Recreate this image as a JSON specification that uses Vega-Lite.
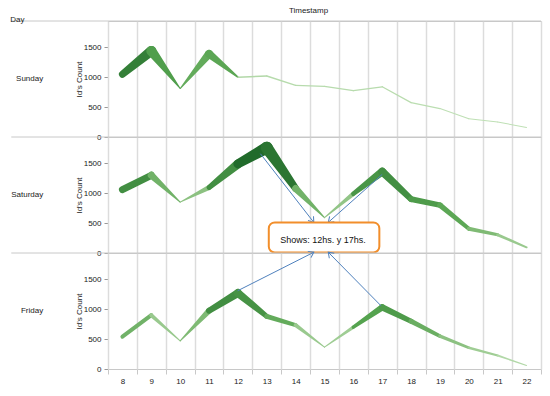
{
  "$schema": "https://vega.github.io/schema/vega-lite/v6.json",
  "autosize": {"type": "pad"},
  "padding": {"left": 10, "top": 6, "right": 10, "bottom": 4},
  "background": "white",
  "bounds": "flush",
  "title": {"text": "Day", "fontSize": 8, "fontWeight": "normal", "font": "Liberation Sans", "color": "#222", "anchor": "start", "frame": "bounds", "offset": 3, "dy": 21},
  "data": {"values": [
    {"Day": "Sunday", "hour": 8, "count": 1050, "w": 7},
    {"Day": "Sunday", "hour": 9, "count": 1440, "w": 10},
    {"Day": "Sunday", "hour": 10, "count": 810, "w": 1},
    {"Day": "Sunday", "hour": 11, "count": 1390, "w": 8},
    {"Day": "Sunday", "hour": 12, "count": 1000, "w": 1.6},
    {"Day": "Sunday", "hour": 13, "count": 1020, "w": 1.4},
    {"Day": "Sunday", "hour": 14, "count": 865, "w": 1.3},
    {"Day": "Sunday", "hour": 15, "count": 848, "w": 1.3},
    {"Day": "Sunday", "hour": 16, "count": 776, "w": 1.3},
    {"Day": "Sunday", "hour": 17, "count": 840, "w": 1.3},
    {"Day": "Sunday", "hour": 18, "count": 575, "w": 1.2},
    {"Day": "Sunday", "hour": 19, "count": 475, "w": 1.1},
    {"Day": "Sunday", "hour": 20, "count": 305, "w": 1},
    {"Day": "Sunday", "hour": 21, "count": 250, "w": 1},
    {"Day": "Sunday", "hour": 22, "count": 160, "w": 1},
    {"Day": "Saturday", "hour": 8, "count": 1060, "w": 7},
    {"Day": "Saturday", "hour": 9, "count": 1300, "w": 7},
    {"Day": "Saturday", "hour": 10, "count": 850, "w": 1},
    {"Day": "Saturday", "hour": 11, "count": 1095, "w": 5},
    {"Day": "Saturday", "hour": 12, "count": 1490, "w": 9},
    {"Day": "Saturday", "hour": 13, "count": 1760, "w": 12},
    {"Day": "Saturday", "hour": 14, "count": 1080, "w": 7},
    {"Day": "Saturday", "hour": 15, "count": 590, "w": 1},
    {"Day": "Saturday", "hour": 16, "count": 990, "w": 4.5},
    {"Day": "Saturday", "hour": 17, "count": 1360, "w": 8},
    {"Day": "Saturday", "hour": 18, "count": 900, "w": 6},
    {"Day": "Saturday", "hour": 19, "count": 800, "w": 5.5},
    {"Day": "Saturday", "hour": 20, "count": 405, "w": 4},
    {"Day": "Saturday", "hour": 21, "count": 305, "w": 3},
    {"Day": "Saturday", "hour": 22, "count": 95, "w": 2},
    {"Day": "Friday", "hour": 8, "count": 540, "w": 4},
    {"Day": "Friday", "hour": 9, "count": 900, "w": 4},
    {"Day": "Friday", "hour": 10, "count": 470, "w": 1},
    {"Day": "Friday", "hour": 11, "count": 975, "w": 6},
    {"Day": "Friday", "hour": 12, "count": 1270, "w": 8},
    {"Day": "Friday", "hour": 13, "count": 880, "w": 5},
    {"Day": "Friday", "hour": 14, "count": 735, "w": 4},
    {"Day": "Friday", "hour": 15, "count": 365, "w": 1},
    {"Day": "Friday", "hour": 16, "count": 700, "w": 3.5},
    {"Day": "Friday", "hour": 17, "count": 1030, "w": 6.5},
    {"Day": "Friday", "hour": 18, "count": 800, "w": 5},
    {"Day": "Friday", "hour": 19, "count": 550, "w": 3.5},
    {"Day": "Friday", "hour": 20, "count": 355, "w": 2.5},
    {"Day": "Friday", "hour": 21, "count": 225, "w": 2},
    {"Day": "Friday", "hour": 22, "count": 60, "w": 1},
    {"Day": "Saturday", "arrow": 1, "ax": 12.78, "ay": 1660, "ax2": 14.63, "ay2": 512},
    {"Day": "Saturday", "arrow": 2, "ax": 17.0, "ay": 1315, "ax2": 15.13, "ay2": 512},
    {"Day": "Friday", "arrow": 3, "ax": 11.99, "ay": 1308, "ax2": 14.63, "ay2": 1953},
    {"Day": "Friday", "arrow": 4, "ax": 16.96, "ay": 1056, "ax2": 15.13, "ay2": 1953},
    {"Day": "Saturday", "bx": 13.07, "bx2": 16.9, "by": 7, "by2": 512, "tx": 14.95, "ty": 218, "label": "Shows: 12hs. y 17hs."}
  ]},
  "facet": {
    "row": {
      "field": "Day", "type": "nominal", "sort": ["Sunday", "Saturday", "Friday"],
      "header": {
        "title": null,
        "labelAngle": 0, "labelAlign": "left", "labelFontSize": 8, "labelFont": "Liberation Sans", "labelColor": "#222", "labelPadding": 32
      }
    }
  },
  "spacing": 0,
  "spec": {
    "width": 433,
    "height": 116,
    "layer": [
      {
        "transform": [
          {"filter": {"field": "count", "valid": true}},
          {"window": [
            {"op": "lead", "field": "hour", "as": "nh"},
            {"op": "lead", "field": "count", "as": "nc"},
            {"op": "lead", "field": "w", "as": "nw"}
          ], "groupby": ["Day"], "sort": [{"field": "hour", "order": "ascending"}]},
          {"filter": {"field": "nh", "valid": true}},
          {"fold": ["hour", "nh"], "as": ["hk", "xv"]},
          {"fold": ["count", "nc"], "as": ["ck", "yv"]},
          {"fold": ["w", "nw"], "as": ["wk", "wv"]},
          {"filter": {"or": [
            {"and": [{"field": "hk", "equal": "hour"}, {"field": "ck", "equal": "count"}, {"field": "wk", "equal": "w"}]},
            {"and": [{"field": "hk", "equal": "nh"}, {"field": "ck", "equal": "nc"}, {"field": "wk", "equal": "nw"}]}
          ]}},
          {"joinaggregate": [{"op": "mean", "field": "wv", "as": "mw"}], "groupby": ["Day", "hour"]}
        ],
        "mark": {"type": "trail"},
        "encoding": {
          "x": {
            "field": "xv", "type": "quantitative",
            "scale": {"domain": [7.5, 22.5], "nice": false, "zero": false},
            "axis": {
              "title": "Timestamp", "titleFontSize": 8, "titleFontWeight": "normal", "titleFont": "Liberation Sans", "titleColor": "#222",
              "titleY": -357, "titleX": 200, "titleBaseline": "alphabetic",
              "values": [7.5, 8.5, 9.5, 10.5, 11.5, 12.5, 13.5, 14.5, 15.5, 16.5, 17.5, 18.5, 19.5, 20.5, 21.5, 22.5],
              "tickCount": 40,
              "labelExpr": "datum.value < 22 ? format(datum.value + 0.5, 'd') : ''",
              "labelOffset": 14.43, "labelFlush": false, "labelOverlap": false,
              "grid": true, "gridColor": "#dcdcdc", "gridWidth": 1.5,
              "domain": false, "ticks": true, "tickColor": "#c8c8c8", "tickSize": 5,
              "labelFontSize": 8, "labelFont": "Liberation Sans", "labelColor": "#222", "labelPadding": 3
            }
          },
          "y": {
            "field": "yv", "type": "quantitative",
            "scale": {"domain": [0, 1940], "nice": false},
            "axis": {
              "title": "Id's Count", "titleFontSize": 8, "titleFontWeight": "normal", "titleFont": "Liberation Sans", "titleColor": "#222",
              "values": [0, 500, 1000, 1500], "tickCount": 20, "format": "d", "labelOverlap": false, "grid": false, "domain": false,
              "tickColor": "#999", "tickSize": 4,
              "labelFontSize": 8, "labelFont": "Liberation Sans", "labelColor": "#222", "labelPadding": 3, "titlePadding": 0
            }
          },
          "size": {"field": "wv", "type": "quantitative", "scale": {"domain": [0, 12], "range": [0, 12]}, "legend": null},
          "color": {"field": "mw", "type": "quantitative", "scale": {"domain": [1, 5, 12], "range": ["#bfe0b5", "#55a34f", "#125c22"]}, "legend": null},
          "detail": {"field": "hour", "type": "nominal"}
        }
      },
      {
        "transform": [{"filter": {"field": "hour", "equal": 8}}],
        "mark": {"type": "rule", "color": "#c8c8c8", "strokeWidth": 1},
        "encoding": {
          "x": {"datum": 4.15},
          "x2": {"datum": 22.5},
          "y": {"datum": 1940}
        }
      },
      {
        "transform": [{"filter": {"field": "ax", "valid": true}}],
        "mark": {"type": "rule", "color": "#4f81bd", "strokeWidth": 1},
        "encoding": {
          "x": {"field": "ax", "type": "quantitative"},
          "y": {"field": "ay", "type": "quantitative"},
          "x2": {"field": "ax2"},
          "y2": {"field": "ay2"}
        }
      },
      {
        "transform": [{"filter": {"field": "arrow", "equal": 1}}],
        "mark": {"type": "point", "shape": "M -1 -0.7 L 0 0 L -1 0.7", "filled": false, "color": "#4f81bd", "strokeWidth": 1, "size": 100, "angle": 52, "opacity": 1},
        "encoding": {"x": {"field": "ax2", "type": "quantitative"}, "y": {"field": "ay2", "type": "quantitative"}}
      },
      {
        "transform": [{"filter": {"field": "arrow", "equal": 2}}],
        "mark": {"type": "point", "shape": "M -1 -0.7 L 0 0 L -1 0.7", "filled": false, "color": "#4f81bd", "strokeWidth": 1, "size": 100, "angle": 138, "opacity": 1},
        "encoding": {"x": {"field": "ax2", "type": "quantitative"}, "y": {"field": "ay2", "type": "quantitative"}}
      },
      {
        "transform": [{"filter": {"field": "arrow", "equal": 3}}],
        "mark": {"type": "point", "shape": "M -1 -0.7 L 0 0 L -1 0.7", "filled": false, "color": "#4f81bd", "strokeWidth": 1, "size": 100, "angle": 333, "opacity": 1},
        "encoding": {"x": {"field": "ax2", "type": "quantitative"}, "y": {"field": "ay2", "type": "quantitative"}}
      },
      {
        "transform": [{"filter": {"field": "arrow", "equal": 4}}],
        "mark": {"type": "point", "shape": "M -1 -0.7 L 0 0 L -1 0.7", "filled": false, "color": "#4f81bd", "strokeWidth": 1, "size": 100, "angle": 225, "opacity": 1},
        "encoding": {"x": {"field": "ax2", "type": "quantitative"}, "y": {"field": "ay2", "type": "quantitative"}}
      },
      {
        "transform": [{"filter": {"field": "bx", "valid": true}}],
        "mark": {"type": "rect", "fill": "white", "stroke": "#f28e2b", "strokeWidth": 2, "cornerRadius": 6},
        "encoding": {
          "x": {"field": "bx", "type": "quantitative"},
          "x2": {"field": "bx2"},
          "y": {"field": "by", "type": "quantitative"},
          "y2": {"field": "by2"}
        }
      },
      {
        "transform": [{"filter": {"field": "bx", "valid": true}}],
        "mark": {"type": "text", "fontSize": 9, "font": "Liberation Sans", "color": "#111", "align": "center", "baseline": "middle"},
        "encoding": {
          "x": {"field": "tx", "type": "quantitative"},
          "y": {"field": "ty", "type": "quantitative"},
          "text": {"field": "label"}
        }
      }
    ]
  },
  "config": {
    "view": {"stroke": "#c8c8c8", "strokeWidth": 1}
  }
}
